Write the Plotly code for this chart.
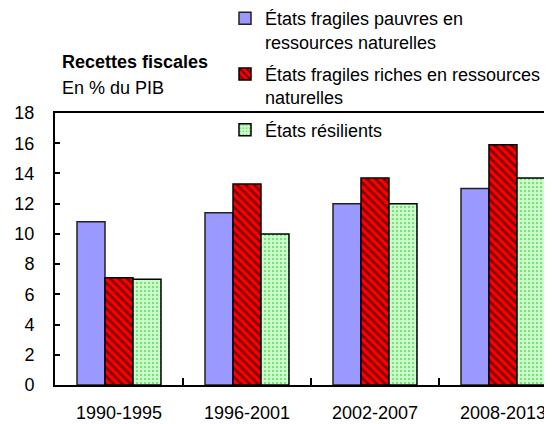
import plotly.graph_objects as go

categories = ["1990-1995", "1996-2001", "2002-2007", "2008-2013"]
series_names = [
    "États fragiles pauvres en<br>ressources naturelles",
    "États fragiles riches en ressources<br>naturelles",
    "États résilients",
]
pauvres = [10.8, 11.4, 12.0, 13.0]
riches = [7.1, 13.3, 13.7, 15.9]
resilients = [7.0, 10.0, 12.0, 13.7]
y_ticks = [0, 2, 4, 6, 8, 10, 12, 14, 16, 18]

FONT = "Liberation Sans, Arial, sans-serif"
FS = 18

fig = go.Figure()
fig.add_trace(go.Bar(
    x=categories, y=pauvres, name=series_names[0],
    marker=dict(color="#9999FF", line=dict(color="#222222", width=1.5)),
    legendgroup="a",
))
fig.add_trace(go.Bar(
    x=categories, y=riches, name=series_names[1],
    marker=dict(color="#FF0000", line=dict(color="#000000", width=1.5),
                pattern=dict(shape="\\", fgcolor="#000000", size=6, solidity=0.45)),
    legendgroup="b",
))
fig.add_trace(go.Bar(
    x=categories, y=resilients, name=series_names[2],
    marker=dict(color="#CCFFCC", line=dict(color="#000000", width=1.5),
                pattern=dict(shape=".", fgcolor="#33BB33", size=4, solidity=0.3)),
    legendgroup="c",
))

# page is offset by the 8px default body margin
OFF = 8
W, H = 552 - OFF, 424 - OFF
PLOT_L = 55 - OFF
PLOT_T = 113 - OFF
PLOT_B = 385 - OFF
PLOT_W = W - PLOT_L
PLOT_H = PLOT_B - PLOT_T

def px_x(x):
    return (x - OFF - PLOT_L) / PLOT_W

def px_y(y):
    return (PLOT_B - (y - OFF)) / PLOT_H

fig.update_layout(
    width=W, height=H,
    margin=dict(l=PLOT_L, r=0, t=PLOT_T, b=H - PLOT_B, autoexpand=False),
    paper_bgcolor="white", plot_bgcolor="white",
    font=dict(family=FONT, size=FS, color="#000000"),
    barmode="group", bargap=0.344, bargroupgap=0,
    showlegend=True,
    legend=dict(
        x=px_x(225), y=px_y(0),
        xanchor="left", yanchor="top", valign="top",
        bgcolor="rgba(0,0,0,0)", font=dict(size=FS, family=FONT),
        tracegroupgap=6, itemwidth=30,
    ),
    xaxis=dict(
        range=[-0.5, 3.383], showline=True, linecolor="black", linewidth=2,
        mirror=True, ticks="inside", tickson="boundaries", ticklen=7,
        tickcolor="black", tickwidth=2, showgrid=False,
        tickfont=dict(size=FS, family=FONT), ticklabelstandoff=10,
    ),
    yaxis=dict(
        range=[0, 18], tickvals=y_ticks, showline=True, linecolor="black",
        linewidth=2, ticks="inside", ticklen=5, tickcolor="black", tickwidth=1.5,
        showgrid=False, zeroline=False, tickfont=dict(size=FS, family=FONT),
        ticklabelstandoff=15,
    ),
    annotations=[
        dict(text="<b>Recettes fiscales</b>", xref="paper", yref="paper",
             x=px_x(60), y=px_y(62), xanchor="left", yanchor="middle",
             showarrow=False, font=dict(size=FS, family=FONT)),
        dict(text="En % du PIB", xref="paper", yref="paper",
             x=px_x(60), y=px_y(88), xanchor="left", yanchor="middle",
             showarrow=False, font=dict(size=FS, family=FONT)),
    ],
)

fig.write_html("out.html")
